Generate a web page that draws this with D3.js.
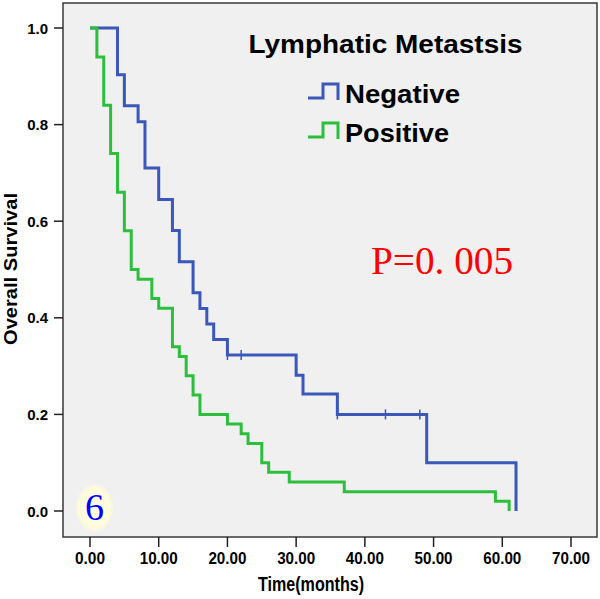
<!DOCTYPE html>
<html>
<head>
<meta charset="UTF-8">
<title>Lymphatic Metastsis KM</title>
<script src="https://cdn.jsdelivr.net/npm/d3@7/dist/d3.min.js"></script>
<style>
  body { margin: 0; background: #fff; }
  svg { display: block; }
  .sans { font-family: Arial, "Liberation Sans", sans-serif; }
  .serif { font-family: "Liberation Serif", "Times New Roman", serif; }
</style>
</head>
<body>
<svg id="chart" width="600" height="599"></svg>
<script>
// Kaplan-Meier step data
var negTimes = [0, 4, 5, 7, 8, 10, 12, 13, 15, 16, 17, 18, 20, 30, 31, 36, 49, 62];
var negSurv  = [1.0, 0.903, 0.839, 0.806, 0.710, 0.645, 0.581, 0.516, 0.452, 0.419, 0.387, 0.355, 0.323, 0.281, 0.242, 0.200, 0.100, 0.0];
var negCensor = [20, 22, 36, 43, 48];

var posTimes = [0, 1, 2, 3, 4, 5, 6, 7, 9, 10, 12, 13, 14, 15, 16, 20, 22, 23, 25, 26, 29, 37, 59, 61];
var posSurv  = [1.0, 0.94, 0.84, 0.74, 0.66, 0.58, 0.50, 0.48, 0.44, 0.42, 0.34, 0.32, 0.28, 0.24, 0.20, 0.18, 0.16, 0.14, 0.10, 0.08, 0.06, 0.04, 0.02, 0.0];
var posCensor = [];

var xTicks = [0, 10, 20, 30, 40, 50, 60, 70];
var yTicks = [0, 0.2, 0.4, 0.6, 0.8, 1.0];

var groups = ["Negative", "Positive"];
var colors = ["#3b57b9", "#2dbf3c"];

var svg = d3.select("#chart");

// frame of the plot
var frame = {left: 63, right: 597, top: 3, bottom: 537};

var x = d3.scaleLinear().domain([0, 70]).range([90, 571]);
var y = d3.scaleLinear().domain([0, 1]).range([511, 28]);

svg.append("rect")
  .attr("x", frame.left).attr("y", frame.top)
  .attr("width", frame.right - frame.left)
  .attr("height", frame.bottom - frame.top)
  .attr("fill", "#f0f0f0")
  .attr("stroke", "#3a3a3a")
  .attr("stroke-width", 1.5);

// x axis ticks + labels
var xg = svg.append("g");
xg.selectAll("line").data(xTicks).enter().append("line")
  .attr("x1", function(d){ return x(d); }).attr("x2", function(d){ return x(d); })
  .attr("y1", frame.bottom).attr("y2", frame.bottom + 10)
  .attr("stroke", "#222").attr("stroke-width", 1.5);
xg.selectAll("text").data(xTicks).enter().append("text")
  .attr("class", "sans")
  .attr("x", function(d){ return x(d); })
  .attr("y", 564)
  .attr("text-anchor", "middle")
  .attr("font-size", 16).attr("font-weight", "bold")
  .attr("textLength", function(d){ return d < 10 ? 30 : 38; })
  .attr("lengthAdjust", "spacingAndGlyphs")
  .text(function(d){ return d3.format(".2f")(d); });

// y axis ticks + labels
var yg = svg.append("g");
yg.selectAll("line").data(yTicks).enter().append("line")
  .attr("x1", frame.left - 9).attr("x2", frame.left)
  .attr("y1", function(d){ return y(d); }).attr("y2", function(d){ return y(d); })
  .attr("stroke", "#222").attr("stroke-width", 1.5);
yg.selectAll("text").data(yTicks).enter().append("text")
  .attr("class", "sans")
  .attr("x", 48)
  .attr("y", function(d){ return y(d) + 5.5; })
  .attr("text-anchor", "end")
  .attr("font-size", 15).attr("font-weight", "bold")
  .text(function(d){ return d3.format(".1f")(d); });

// axis titles
svg.append("text")
  .attr("class", "sans")
  .attr("x", 311).attr("y", 591)
  .attr("text-anchor", "middle")
  .attr("font-size", 20).attr("font-weight", "bold")
  .attr("textLength", 106).attr("lengthAdjust", "spacingAndGlyphs")
  .text("Time(months)");

svg.append("text")
  .attr("class", "sans")
  .attr("transform", "translate(17,269) rotate(-90)")
  .attr("text-anchor", "middle")
  .attr("font-size", 19).attr("font-weight", "bold")
  .attr("textLength", 152).attr("lengthAdjust", "spacingAndGlyphs")
  .text("Overall Survival");

// curves
var line = d3.line()
  .x(function(d){ return x(d[0]); })
  .y(function(d){ return y(d[1]); })
  .curve(d3.curveStepAfter);

function survAt(times, surv, t) {
  var i = d3.bisectRight(times, t) - 1;
  return surv[Math.max(0, i)];
}

var series = [
  {times: negTimes, surv: negSurv, censor: negCensor, color: colors[0]},
  {times: posTimes, surv: posSurv, censor: posCensor, color: colors[1]}
];

series.forEach(function(s){
  var pts = s.times.map(function(t, i){ return [t, s.surv[i]]; });
  svg.append("path")
    .attr("d", line(pts))
    .attr("fill", "none")
    .attr("stroke", s.color)
    .attr("stroke-width", 3);
  svg.append("g").selectAll("line").data(s.censor).enter().append("line")
    .attr("x1", function(d){ return x(d); }).attr("x2", function(d){ return x(d); })
    .attr("y1", function(d){ return y(survAt(s.times, s.surv, d)) - 5; })
    .attr("y2", function(d){ return y(survAt(s.times, s.surv, d)) + 5; })
    .attr("stroke", s.color).attr("stroke-width", 1.5);
});

// legend
svg.append("text")
  .attr("class", "sans")
  .attr("x", 385.5).attr("y", 52.5)
  .attr("text-anchor", "middle")
  .attr("font-size", 25).attr("font-weight", "bold")
  .attr("textLength", 274).attr("lengthAdjust", "spacingAndGlyphs")
  .text("Lymphatic Metastsis");

var legY = [98, 137];
var legLen = [115, 104];
groups.forEach(function(g, i){
  var ly = legY[i];
  svg.append("path")
    .attr("d", "M308," + ly + "H323V" + (ly - 14) + "H338V" + (ly + 2))
    .attr("fill", "none")
    .attr("stroke", colors[i])
    .attr("stroke-width", 3);
  svg.append("text")
    .attr("class", "sans")
    .attr("x", 345).attr("y", ly + 5)
    .attr("font-size", 25).attr("font-weight", "bold")
    .attr("textLength", legLen[i]).attr("lengthAdjust", "spacingAndGlyphs")
    .text(g);
});

// p value
svg.append("text")
  .attr("class", "serif")
  .attr("x", 371).attr("y", 274)
  .attr("font-size", 39)
  .attr("fill", "#ff0000")
  .attr("textLength", 142).attr("lengthAdjust", "spacingAndGlyphs")
  .text("P=0. 005");

// panel number badge
var defs = svg.append("defs");
var grad = defs.append("radialGradient").attr("id", "glow");
grad.append("stop").attr("offset", "0%").attr("stop-color", "#fffde4");
grad.append("stop").attr("offset", "80%").attr("stop-color", "#fefcdc");
grad.append("stop").attr("offset", "100%").attr("stop-color", "#f4f3e8");
svg.append("ellipse")
  .attr("cx", 94.5).attr("cy", 508)
  .attr("rx", 19).attr("ry", 24)
  .attr("fill", "url(#glow)");
svg.append("text")
  .attr("class", "serif")
  .attr("x", 94.5).attr("y", 519.5)
  .attr("text-anchor", "middle")
  .attr("font-size", 38)
  .attr("fill", "#0000ff")
  .text("6");
</script>
</body>
</html>
